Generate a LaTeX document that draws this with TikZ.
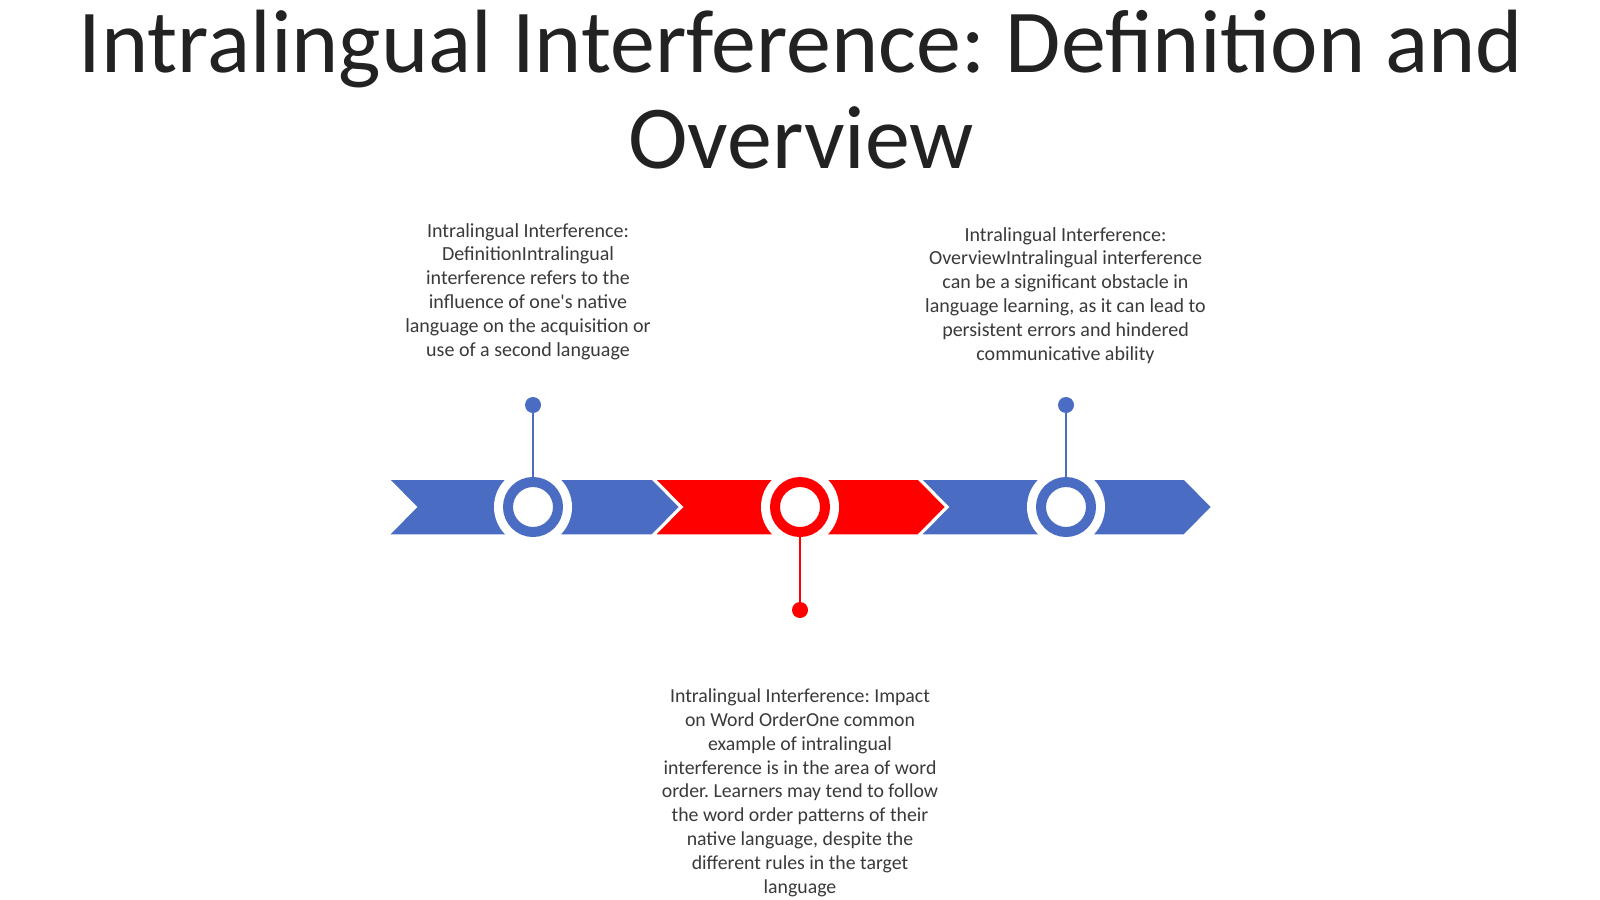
\documentclass[tikz,border=0pt]{standalone}
\usepackage{fontspec}
\setmainfont{Carlito}[Ligatures=TeXOff]
\frenchspacing
\definecolor{tblue}{HTML}{4A6CC2}
\definecolor{tred}{HTML}{FF0000}
\definecolor{ttext}{HTML}{3A3A3A}
\definecolor{ttitle}{HTML}{222222}
\begin{document}
\begin{tikzpicture}[x=1pt,y=-1pt,
  chev/.style={draw=white,line width=2.5pt,line join=miter},
  halo/.style={circle,fill=white,minimum size=78pt,inner sep=0pt,outer sep=0pt},
  ring/.style={circle,draw=#1,line width=10pt,fill=white,minimum size=50pt,inner sep=0pt,outer sep=5pt},
  pindot/.style={circle,fill=#1,minimum size=16pt,inner sep=0pt,outer sep=0pt},
  pin/.style={draw=#1,line width=2.5pt},
  body/.style={align=center,text=ttext,inner sep=0pt,anchor=base,font=\fontsize{20}{23.8}\selectfont\frenchspacing},
  title/.style={align=center,text=ttitle,inner sep=0pt,anchor=base,font=\fontsize{89.9}{96}\selectfont\frenchspacing}]
\useasboundingbox (0,0) rectangle (1600,899);
\fill[white] (0,0) rectangle (1600,899);
% title (base anchor = last line's baseline)
\node[title] (title) at (801,168) {Intralingual Interference: Definition and\\Overview};
% chevrons
\foreach \x/\c in {387.5/tblue,653.5/tred,919.5/tblue}{
  \filldraw[chev,fill=\c] (\x,478.5) -- (\x+265,478.5) -- (\x+293,507) -- (\x+265,535.5) -- (\x,535.5) -- (\x+28,507) -- cycle;
}
% halos and rings
\node[halo] at (533,507) {};
\node[halo] at (800,507) {};
\node[halo] at (1066,507) {};
\node[ring=tblue] (r1) at (533,507) {};
\node[ring=tred] (r2) at (800,507) {};
\node[ring=tblue] (r3) at (1066,507) {};
% pins
\node[pindot=tblue] (d1) at (533,405) {};
\node[pindot=tred] (d2) at (800,610) {};
\node[pindot=tblue] (d3) at (1066,405) {};
\draw[pin=tblue] (r1.north) -- (d1.center);
\draw[pin=tred] (r2.south) -- (d2.center);
\draw[pin=tblue] (r3.north) -- (d3.center);
% texts
\node[body] (t1) at (528,356) {Intralingual Interference:\\DefinitionIntralingual\\interference refers to the\\influence of one's native\\language on the acquisition or\\use of a second language};
\node[body] (t3) at (1065.5,360) {Intralingual Interference:\\OverviewIntralingual interference\\can be a significant obstacle in\\language learning, as it can lead to\\persistent errors and hindered\\communicative ability};
\node[body,font=\fontsize{19.8}{23.8}\selectfont\frenchspacing] (t2) at (800,893) {Intralingual Interference: Impact\\on Word OrderOne common\\example of intralingual\\interference is in the area of word\\order. Learners may tend to follow\\the word order patterns of their\\native language, despite the\\different rules in the target\\language};
\end{tikzpicture}
\end{document}
